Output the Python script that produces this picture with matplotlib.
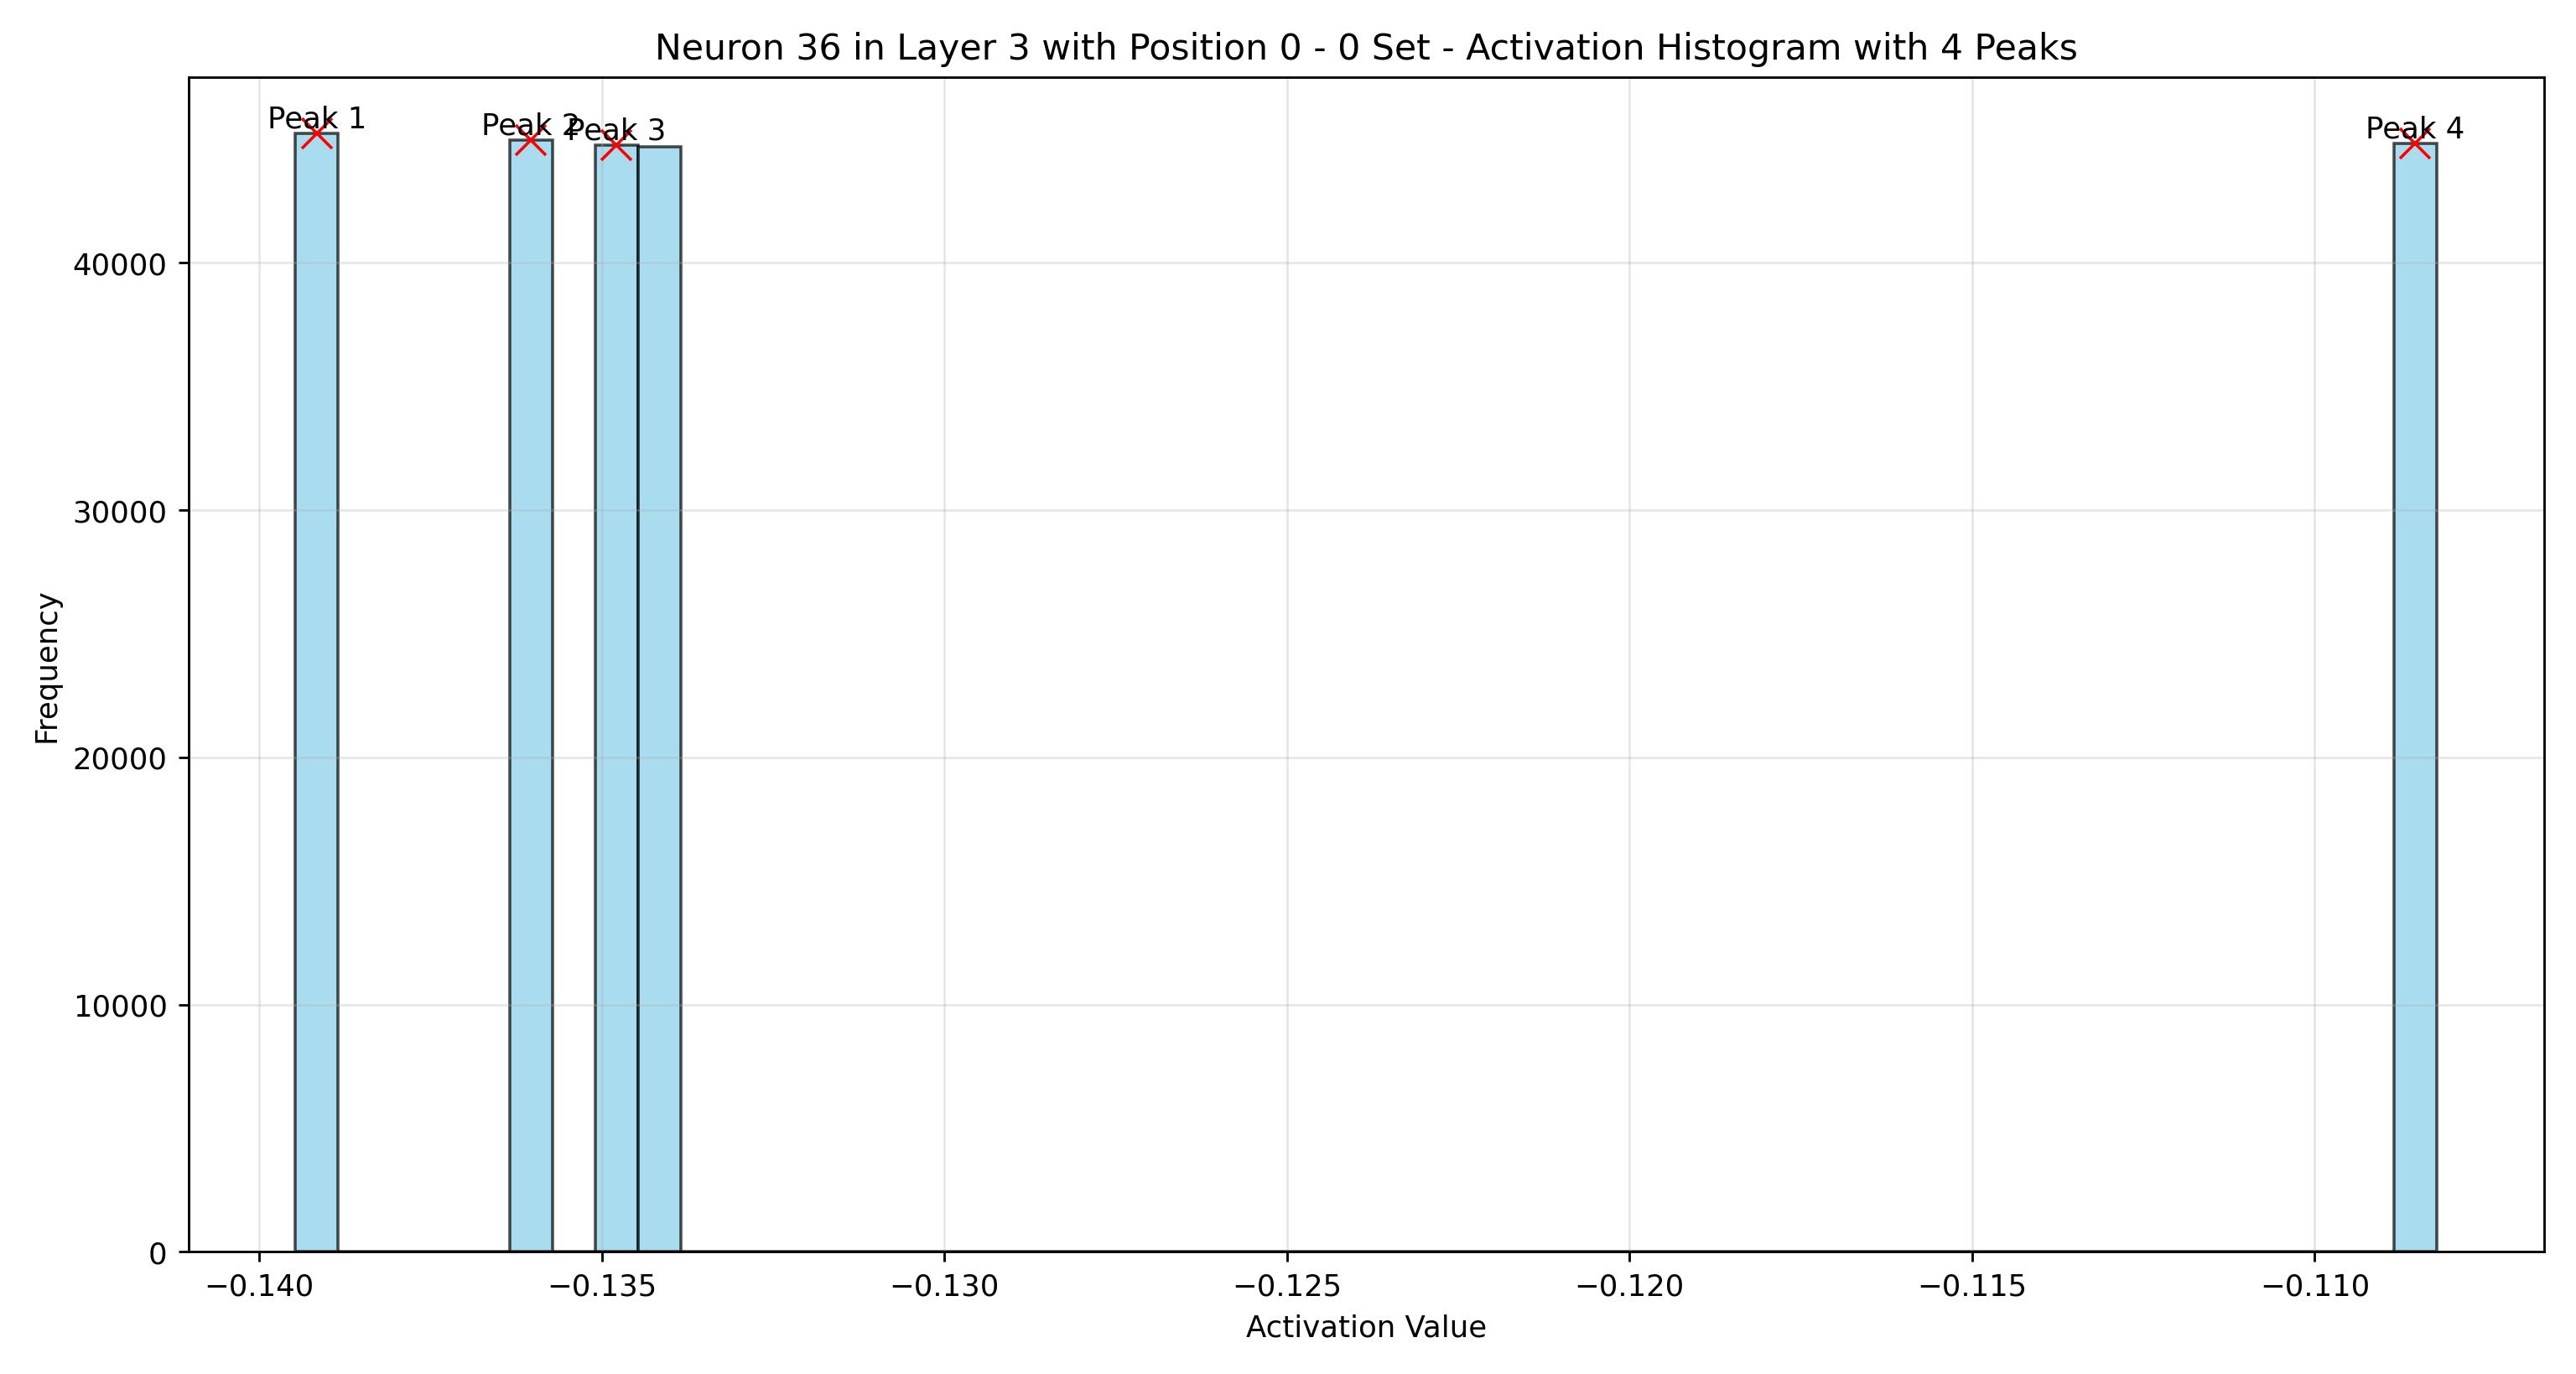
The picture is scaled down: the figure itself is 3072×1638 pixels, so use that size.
import numpy as np
import matplotlib.pyplot as plt

# ----------------------------- DATA -----------------------------
ACT_MIN = -0.13947
ACT_MAX = -0.10822
N_BINS = 50
# non-empty bins: bin index -> count
bin_index = [0, 5, 7, 8, 49]
bin_count = [45240, 44970, 44770, 44700, 44840]
peak_bins = [0, 5, 7, 49]
peak_labels = ["Peak 1", "Peak 2", "Peak 3", "Peak 4"]
# ----------------------------------------------------------------

edges = np.linspace(ACT_MIN, ACT_MAX, N_BINS + 1)
centers = (edges[:-1] + edges[1:]) / 2
counts = np.zeros(N_BINS)
counts[bin_index] = bin_count

fig, ax = plt.subplots(figsize=(12, 6.4), dpi=256)
ax.hist(centers, bins=edges, weights=counts, color="skyblue",
        edgecolor="black", alpha=0.7)

for b, lab in zip(peak_bins, peak_labels):
    ax.plot(centers[b], counts[b], "x", color="red", markersize=10)
    ax.text(centers[b], counts[b], lab, ha="center", va="bottom", fontsize=10)

ax.set_title("Neuron 36 in Layer 3 with Position 0 - 0 Set - Activation Histogram with 4 Peaks",
             fontsize=12)
ax.set_xlabel("Activation Value")
ax.set_ylabel("Frequency")
ax.grid(True, alpha=0.3)

fig.tight_layout()
fig.savefig("out.png")
